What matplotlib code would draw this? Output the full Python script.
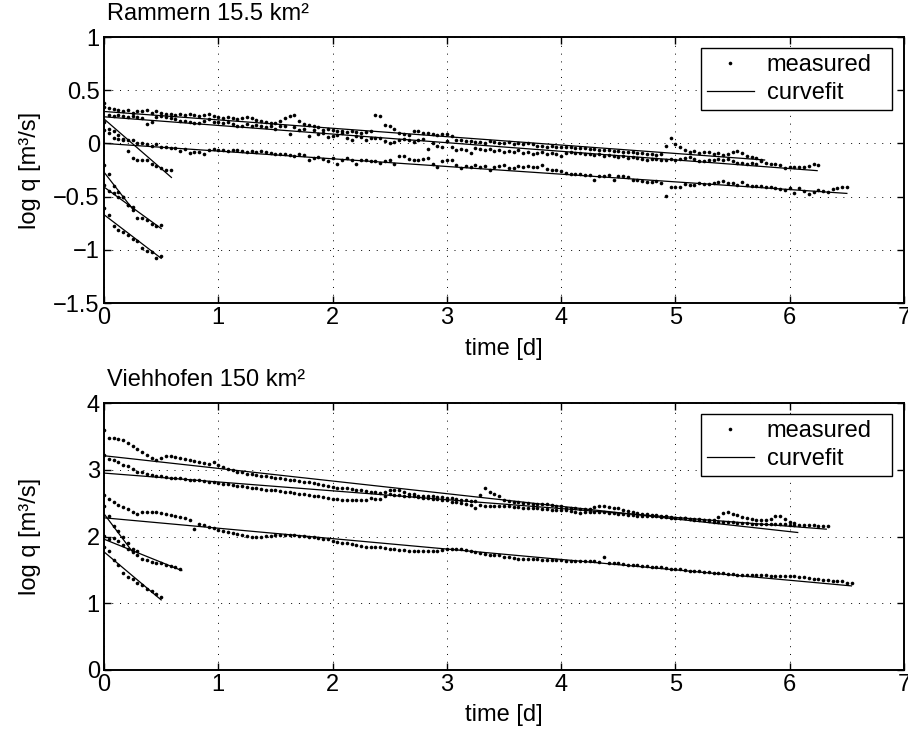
import numpy as np
import matplotlib
matplotlib.use("Agg")
import matplotlib.pyplot as plt
from matplotlib.lines import Line2D
from matplotlib.ticker import FuncFormatter, FixedLocator

plt.rcParams['font.family'] = ['Liberation Sans', 'DejaVu Sans']

# ---------------- data (hourly samples, values in hundredths of log q) -------------
HOURS_PER_DAY = 24.0

# Rammern 15.5 km2 -- measured recessions
ram_T1 = [38, 33, 32, 31, 30, 31, 29, 30, 30, 31, 29, 30, 29,
          28, 28, 27, 28, 27, 28, 27, 26, 27, 28, 26, 25,
          24, 25, 24, 23, 24, 25, 24, 22, 21, 20, 19,
          19, 21, 24, 26, 27,
          21, 18, 17, 16, 15, 13, 14, 13,
          12, 12, 11, 12, 11, 10, 11, 12,
          27, 26,
          17, 16, 14, 10, 9, 8,
          12, 12, 10, 10, 9, 8, 9, 9,
          7, 3, 3, 2, 2, 1, 1, 0,
          2, 1, 0, 0, 1, -1, 0, -1, 0, -1, -2, -2, -3, -2, -3, -3,
          -3, -3, -4, -4, -4, -5, -5, -6, -6, -6, -7, -7, -8, -8, -8, -9, -9, -10, -10, -11, -10,
          -2, 5, -1, -3, -6, -8, -7, -9,
          -8, -8, -10, -9, -11, -10, -8, -7, -9, -12, -13, -14, -16]
ram_T2 = [34, 27, 26, 27, 26, 25, 26, 25, 24, 18, 20, 25, 26,
          25, 24, 23, 21, 21, 20, 19, 19, 21, 23, 20, 20,
          19, 20, 18, 16, 16, 18, 16, 17, 16, 15, 16, 14,
          16, 16, 9, 15, 13, 14, 7, 13, 9, 10, 6, 7,
          8, 10, 5, 3, 7, 6, 3, 5, 5, 5, 2, 0,
          1, 3, 4, 3, 1, 3, 4, -5, 0, -2, -3, 2,
          -3, -6, -5, -6, -9, -4, -5, -6, -5, -7, -6, -8,
          -7, -8, -6, -9, -8, -10, -9, -8, -10, -9, -10, -12,
          -9, -8, -9, -9, -10, -10, -11, -10, -12, -11, -12, -13,
          -12, -14, -13, -14, -15, -16, -15, -15, -16, -16, -15, -16,
          -15, -14, -13, -15, -17, -17, -16, -16, -15, -16, -15, -17,
          -18, -18, -19, -18, -19, -17, -18, -19, -19, -20, -23, -22,
          -22, -22, -22, -21, -19, -20]
ram_T3 = [13, 10, 5, 4, 3, 3, 3, 0, 0, -1, -2, -1, -3,
          -3, -4, -4, -7, -5, -9, -8, -8, -10, -6, -5, -6,
          -6, -7, -6, -6, -7, -8, -7, -8, -7, -8, -9, -10,
          -10, -10, -11, -12, -10, -11, -16, -14, -13, -15, -17, -14,
          -19, -16, -14, -16, -19, -16, -16, -17, -17, -18, -17, -16,
          -19, -12, -12, -15, -16, -16, -15, -14, -19, -22, -17, -16,
          -16, -20, -23, -21, -22, -20, -22, -21, -25, -22, -21, -20,
          -23, -23, -21, -22, -21, -22, -22, -20, -24, -25, -25, -26,
          -28, -29, -29, -29, -30, -30, -34, -31, -31, -30, -34, -31,
          -31, -32, -34, -34, -35, -36, -36, -35, -37, -49, -41, -41,
          -41, -38, -39, -39, -37, -38, -38, -37, -36, -35, -37, -37,
          -39, -36, -39, -40, -40, -40, -41, -41, -42, -43, -44, -42,
          -47, -42, -45, -48, -46, -44, -45, -46, -43, -42, -41, -41]
ram_S1 = [20, 14, 12, 8, 4, -7, -14, -16, -16, -16, -19, -21, -23, -25, -25]
ram_S2a = [-20, -29, -40, -46, -50, -58, -63]
ram_S2b = [-39, -45, -47, -50, -50, -58, -60, -70, -70, -72, -76, -78, -77]
ram_S3 = [-61, -67, -78, -81, -83, -86, -90, -92, -98, -101, -102, -108, -106]
ram_series = [ram_T1, ram_T2, ram_T3, ram_S1, ram_S2a, ram_S2b, ram_S3]

# Rammern curvefit lines: end time [d], start value, end value
ram_fit_tend = [5.78, 6.24, 6.50, 0.59, 0.26, 0.50, 0.50]
ram_fit_v0 = [0.30, 0.25, 0.00, 0.23, -0.27, -0.41, -0.67]
ram_fit_v1 = [-0.156, -0.256, -0.47, -0.32, -0.63, -0.80, -1.08]

# Viehhofen 150 km2 -- measured recessions
vie_V1 = [359, 347, 347, 346, 344, 340, 336, 331, 327, 322, 317, 314,
          317, 321, 320, 319, 317, 316, 314, 313, 311, 310, 309, 311,
          307, 304, 301, 299, 297, 296, 294, 293, 292, 291, 290, 289,
          288, 287, 286, 285, 284, 283, 282, 281, 280, 279, 277, 276,
          274, 273, 272, 272, 271, 270, 269, 268, 267, 266, 265, 266,
          269, 270, 270, 266, 264, 263, 261, 261, 260, 260, 259, 259,
          258, 257, 256, 255, 254, 253, 253, 262, 272, 267, 264, 261,
          255, 253, 252, 251, 250, 250, 249, 249, 248, 248, 247, 246,
          245, 243, 242, 242, 241, 241, 241, 244, 245, 245, 244, 243,
          242, 240, 238, 236, 235, 234, 233, 232, 232, 231, 230, 229,
          228, 227, 227, 226, 226, 226, 225, 225, 225, 229, 235, 236,
          234, 232, 229, 227, 226, 225, 224, 224, 226, 230, 230, 226,
          222, 220]
vie_V2 = [322, 316, 314, 311, 307, 305, 301, 297, 296, 294, 292, 291,
          290, 289, 288, 287, 287, 286, 285, 285, 284, 283, 282, 281,
          280, 279, 278, 277, 276, 275, 274, 273, 272, 271, 270, 270,
          269, 268, 267, 266, 265, 264, 263, 262, 261, 260, 259, 258,
          256, 256, 255, 255, 254, 254, 254, 255, 257, 256, 256, 261,
          263, 262, 262, 261, 260, 260, 259, 258, 257, 256, 256, 255,
          254, 252, 251, 250, 249, 247, 242, 247, 246, 246, 245, 245,
          245, 245, 244, 244, 243, 243, 242, 242, 241, 241, 240, 240,
          239, 239, 238, 236, 235, 236, 237, 237, 236, 236, 235, 235,
          234, 233, 232, 232, 231, 231, 230, 230, 230, 229, 229, 228,
          228, 227, 227, 226, 225, 225, 224, 223, 222, 222, 221, 221,
          221, 220, 220, 220, 219, 219, 219, 219, 219, 219, 218, 218,
          217, 217, 217, 217, 217, 217, 216, 216, 216]
vie_V3 = [262, 256, 251, 247, 244, 241, 237, 234, 236, 237, 236, 236,
          235, 234, 232, 231, 229, 227, 224, 211, 219, 217, 214, 212,
          210, 208, 206, 205, 203, 202, 201, 200, 200, 200, 201, 201,
          202, 202, 202, 202, 202, 201, 201, 200, 199, 198, 197, 196,
          194, 192, 191, 190, 189, 187, 186, 185, 185, 185, 184, 183,
          182, 181, 180, 180, 179, 179, 179, 179, 179, 179, 179, 180,
          182, 182, 182, 181, 180, 178, 177, 176, 174, 173, 173, 172,
          170, 169, 168, 167, 167, 166, 166, 166, 165, 165, 165, 165,
          165, 164, 164, 164, 164, 163, 163, 163, 162, 170, 161, 160,
          160, 159, 158, 158, 157, 156, 156, 155, 154, 154, 153, 152,
          151, 151, 150, 149, 149, 148, 147, 147, 146, 145, 145, 144,
          144, 143, 143, 143, 142, 142, 142, 142, 141, 141, 141, 141,
          141, 141, 140, 139, 138, 137, 136, 135, 135, 134, 133, 133,
          131, 131]
vie_V4 = [246, 230, 215, 208, 200, 190, 182, 179]
vie_V5 = [201, 197, 198, 194, 187, 182, 177, 172, 166, 165, 162, 161, 160, 157, 156, 154, 152]
vie_V6 = [185, 178, 165, 157, 145, 140, 136, 130, 127, 122, 119, 114, 110]
vie_series = [vie_V1, vie_V2, vie_V3, vie_V4, vie_V5, vie_V6]

vie_fit_tend = [6.07, 6.32, 6.54, 0.25, 0.68, 0.50]
vie_fit_v0 = [3.21, 2.95, 2.28, 2.34, 1.96, 1.77]
vie_fit_v1 = [2.06, 2.11, 1.26, 1.77, 1.49, 1.05]

titles = ["Rammern 15.5 km\u00b2", "Viehhofen 150 km\u00b2"]
x_ticks = [0, 1, 2, 3, 4, 5, 6, 7]
ram_yticks = [-1.5, -1, -0.5, 0, 0.5, 1]
vie_yticks = [0, 1, 2, 3, 4]
legend_labels = ["measured", "curvefit"]

# ---------------- figure ----------------
W, H = 908, 736
fig = plt.figure(figsize=(W / 100, H / 100), dpi=100)
ax1 = fig.add_axes([104 / W, 1 - 303 / H, 800 / W, 266 / H])
ax2 = fig.add_axes([104 / W, 1 - 670 / H, 800 / W, 267 / H])

FS = 17
MS = 2.6


def fmt(v, pos):
    s = "%g" % v
    return s.replace("-", "\u2212")


def draw(ax, series, tend, v0, v1, yticks, title):
    for s in series:
        vals = np.asarray(s, dtype=float) / 100.0
        t = np.arange(len(vals)) / HOURS_PER_DAY
        ax.plot(t, vals, linestyle='none', marker='o', ms=MS, mew=0, color='k', zorder=3)
    for te, a, b in zip(tend, v0, v1):
        ax.plot([0, te], [a, b], color='k', lw=0.9, zorder=4)
    ax.set_xlim(x_ticks[0], x_ticks[-1])
    ax.set_ylim(yticks[0], yticks[-1])
    ax.xaxis.set_major_locator(FixedLocator(x_ticks))
    ax.yaxis.set_major_locator(FixedLocator(yticks))
    ax.xaxis.set_major_formatter(FuncFormatter(fmt))
    ax.yaxis.set_major_formatter(FuncFormatter(fmt))
    ax.tick_params(direction='in', length=5, width=1.0, top=True, right=True,
                   labelsize=FS, pad=3, colors='k')
    ax.grid(True, linestyle=(0, (1, 7)), color='k', lw=0.7)
    ax.set_axisbelow(True)
    for sp in ax.spines.values():
        sp.set_linewidth(1.4)
    ax.set_xlabel("time [d]", fontsize=FS, labelpad=6)
    ax.set_ylabel("log q [m\u00b3/s]", fontsize=FS)
    ax.yaxis.set_label_coords(-0.079, 0.5)
    ax.text(0.004, 1 + 17 / 266, title, transform=ax.transAxes, fontsize=FS,
            ha='left', va='baseline')
    handles = [Line2D([], [], linestyle='none', marker='o', ms=MS, mew=0, color='k'),
               Line2D([], [], color='k', lw=0.9)]
    leg = ax.legend(handles, legend_labels, loc='upper right',
                    bbox_to_anchor=(0.746, 0.5, 0.239, 0.4586), mode='expand',
                    borderaxespad=0, fancybox=False, edgecolor='k', framealpha=1,
                    fontsize=FS, handlelength=2.0, handletextpad=0.55,
                    labelspacing=0.25, borderpad=0.25)
    leg.get_frame().set_linewidth(1.0)


draw(ax1, ram_series, ram_fit_tend, ram_fit_v0, ram_fit_v1, ram_yticks, titles[0])
draw(ax2, vie_series, vie_fit_tend, vie_fit_v0, vie_fit_v1, vie_yticks, titles[1])

fig.savefig("out.png", dpi=100)
